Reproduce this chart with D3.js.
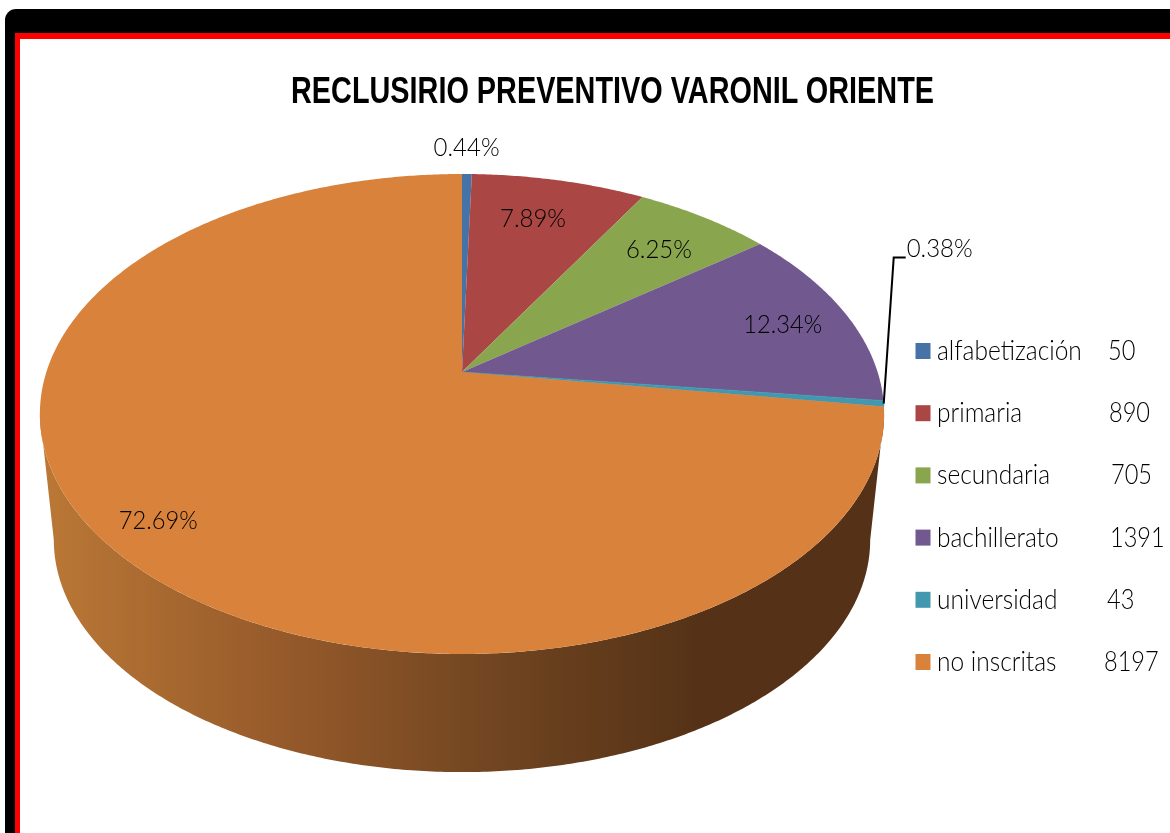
<!DOCTYPE html>
<html>
<head>
<meta charset="utf-8">
<script src="https://cdn.jsdelivr.net/npm/d3@7"></script>
<style>
html,body{margin:0;padding:0;background:#fff;overflow:hidden}
svg{display:block;filter:blur(0.45px)}
text{font-family:Lato,sans-serif;font-weight:300;fill:#000}
</style>
</head>
<body>
<svg id="chart" width="1170" height="833"></svg>
<script>
// ---- data ----
const categories = ["alfabetización","primaria","secundaria","bachillerato","universidad","no inscritas"];
const values = [50,890,705,1391,43,8197];
const colors = ["#4572a7","#aa4643","#89a54e","#71588f","#4198af","#d9823c"];
const chartTitle = "RECLUSIRIO PREVENTIVO VARONIL ORIENTE";

// ---- layout ----
const labelRadius = [1.17,0.78,0.78,0.82,null,0.875];
const labelNudge = [-1,-7,3,4,0,2];
const legendValueX = [1108,1109,1111,1110,1107,1104];
const wallStops = [[0,"#bb7836"],[0.3,"#94592a"],[0.55,"#6f4420"],[0.78,"#553217"],[1,"#553217"]];
const W=1170,H=833, cx=462, apexY=372, R=415.6, S=232.65, k=0.175, lowScale=0.967, lowApexY=499.4;

const svg=d3.select("#chart");
const defs=svg.append("defs");

// frame
svg.append("rect").attr("x",5).attr("y",9).attr("width",W+40).attr("height",H+10).attr("rx",11).attr("fill","#000");
svg.append("rect").attr("x",15).attr("y",33).attr("width",W+40).attr("height",H+40).attr("fill","#f00");
svg.append("rect").attr("x",20).attr("y",39).attr("width",W+40).attr("height",H+40).attr("fill","#fff");

// perspective disk: theta clockwise from top, r radial fraction
function project(theta,r=1,scale=1,y0=apexY){
  const u=r*Math.sin(theta), v=-r*Math.cos(theta), d=1-k*v;
  return [cx+scale*R*u/d, y0+scale*S*v/d];
}
const line=d3.line();
const pie=d3.pie().sort(null).startAngle(0).endAngle(2*Math.PI);
const arcs=pie(values);
const total=d3.sum(values);
const pct=d3.format(".2f");
const color=d3.scaleOrdinal().domain(categories).range(colors);
const deg=Math.PI/180;
const samples=(a,b)=>{const n=Math.max(2,Math.ceil((b-a)/(0.5*deg)));return d3.range(n+1).map(i=>a+(b-a)*i/n);};

// wall gradient
const grad=defs.append("linearGradient").attr("id","wall").attr("gradientUnits","userSpaceOnUse")
  .attr("x1",cx-R*1.0155).attr("x2",cx+R*1.0155).attr("y1",0).attr("y2",0);
grad.selectAll("stop").data(wallStops).join("stop").attr("offset",d=>d[0]).attr("stop-color",d=>d[1]);

// visible wall (front of the pie, silhouette at theta where v=k)
const visA=Math.PI-Math.acos(k), visB=Math.PI+Math.acos(k);
svg.append("g").selectAll("path").data(arcs).join("path")
  .attr("d",d=>{
    const a=Math.max(d.startAngle,visA), b=Math.min(d.endAngle,visB);
    if(b<=a) return null;
    const ts=samples(a,b);
    return line(ts.map(t=>project(t)).concat(ts.slice().reverse().map(t=>project(t,1,lowScale,lowApexY))))+"Z";
  })
  .attr("fill","url(#wall)");

// top slices
svg.append("g").selectAll("path").data(arcs).join("path")
  .attr("d",d=>line([[cx,apexY]].concat(samples(d.startAngle,d.endAngle).map(t=>project(t))))+"Z")
  .attr("fill",(d,i)=>color(categories[i]))
  .attr("stroke",(d,i)=>i===4?color(categories[i]):"none").attr("stroke-width",0.8);

// title
svg.append("text").attr("x",291).attr("y",103).text(chartTitle)
  .style("font-family","'Liberation Sans',sans-serif").style("font-weight","700").style("font-size","37.5px").style("fill","#000")
  .attr("textLength",643).attr("lengthAdjust","spacingAndGlyphs");

// percentage labels
const mid=d=>(d.startAngle+d.endAngle)/2;
const pctText=d=>pct(d.value/total*100)+"%";
svg.append("g").selectAll("text").data(arcs.filter((d,i)=>labelRadius[i]!==null)).join("text")
  .attr("x",d=>project(mid(d),labelRadius[arcs.indexOf(d)])[0]+labelNudge[arcs.indexOf(d)])
  .attr("y",d=>project(mid(d),labelRadius[arcs.indexOf(d)])[1]+9.5)
  .attr("text-anchor","middle").style("font-size","26px").text(pctText)
  .attr("textLength",d=>pctText(d).length===6?79:66).attr("lengthAdjust","spacingAndGlyphs");

// leader label (universidad)
const small=arcs[4], st=project(mid(small));
const elbow=[st[0]+10,st[1]-146], end=[elbow[0]+12,elbow[1]];
svg.append("path").attr("d",line([st,elbow,end])).attr("fill","none").attr("stroke","#000").attr("stroke-width",2);
svg.append("text").attr("x",end[0]+1).attr("y",end[1]-1).style("font-size","26px").text(pctText(small))
  .attr("textLength",66).attr("lengthAdjust","spacingAndGlyphs");

// legend
const ly=d3.scalePoint().domain(categories).range([343,654]);
const leg=svg.append("g").selectAll("g").data(categories).join("g");
leg.append("rect").attr("x",915.5).attr("y",d=>ly(d)).attr("width",15).attr("height",16)
  .attr("fill",d=>color(d));
leg.append("text").attr("x",937).attr("y",d=>ly(d)+17).style("font-size","26.5px").text(d=>d)
  .each(function(){const n=this.getComputedTextLength();d3.select(this).attr("textLength",n*0.925).attr("lengthAdjust","spacingAndGlyphs");});
leg.append("text").attr("x",(d,i)=>legendValueX[i]).attr("y",d=>ly(d)+17).style("font-size","26.5px").text((d,i)=>values[i])
  .each(function(){const n=this.getComputedTextLength();d3.select(this).attr("textLength",n*0.89).attr("lengthAdjust","spacingAndGlyphs");});
</script>
</body>
</html>
